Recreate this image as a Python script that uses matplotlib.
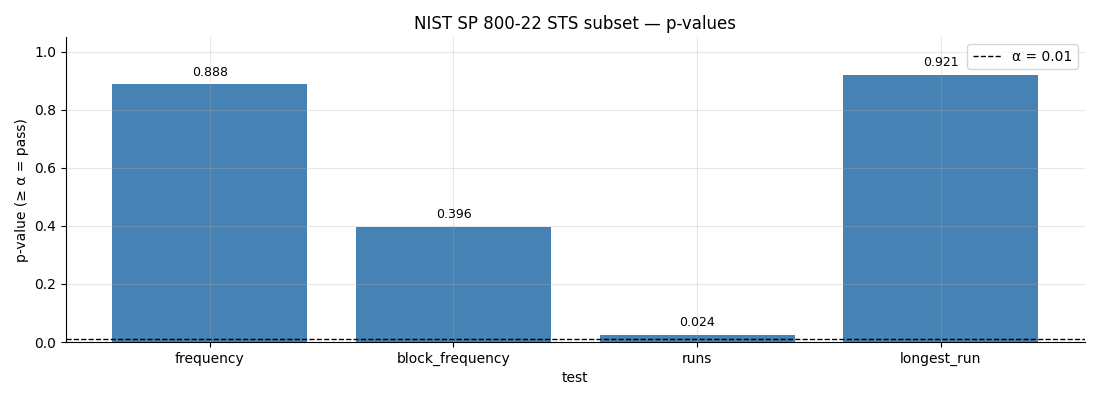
import matplotlib
matplotlib.use("Agg")
import matplotlib.pyplot as plt

tests = ["frequency", "block_frequency", "runs", "longest_run"]
p_values = [0.888, 0.396, 0.024, 0.921]
alpha = 0.01

fig, ax = plt.subplots(figsize=(11, 4), dpi=100)
bars = ax.bar(tests, p_values, color="steelblue", width=0.8)
for b, v in zip(bars, p_values):
    ax.annotate(f"{v:.3f}", (b.get_x() + b.get_width() / 2, v),
                xytext=(0, 4), textcoords="offset points",
                ha="center", va="bottom", fontsize=9)
ax.axhline(alpha, color="black", linestyle="--", linewidth=1, label=f"α = {alpha}")
ax.set_ylim(0, 1.05)
ax.set_title("NIST SP 800-22 STS subset — p-values")
ax.set_xlabel("test")
ax.set_ylabel("p-value (≥ α = pass)")
ax.grid(True, alpha=0.3)
ax.spines["top"].set_visible(False)
ax.spines["right"].set_visible(False)
ax.legend(loc="upper right")
fig.subplots_adjust(left=0.06, right=0.986, top=0.907, bottom=0.145)
fig.savefig("out.png")
